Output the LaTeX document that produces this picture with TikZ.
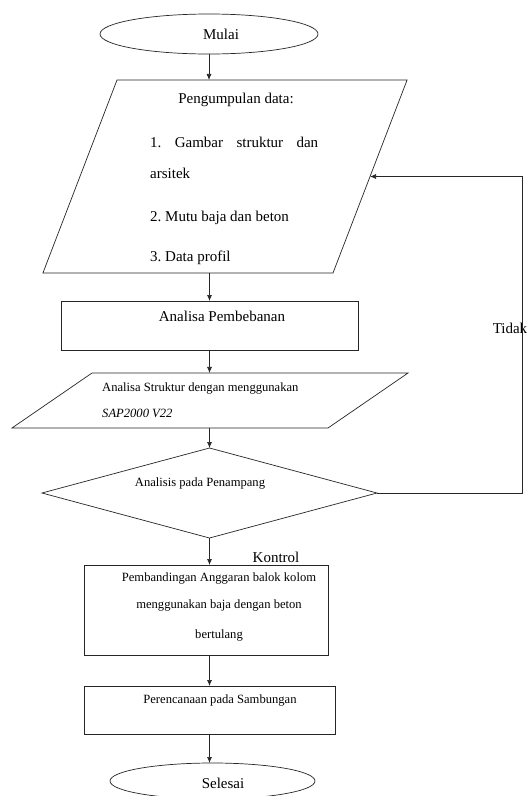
\documentclass[tikz,border=0pt]{standalone}
\usepackage{fontspec}
\setmainfont{Liberation Serif}
\usetikzlibrary{shapes.geometric,arrows.meta}
\tikzset{
  garis/.style={line width=0.7pt, draw=black!85},
  panah/.style={garis, -{Latex[length=6pt,width=5pt]}},
  bentuk/.style={garis, inner sep=0pt, outer sep=0pt},
  teks/.style={font=\fontsize{15}{18}\selectfont, inner sep=0pt},
  teksk/.style={font=\fontsize{12.6}{15}\selectfont, inner sep=0pt},
}
\begin{document}
\begin{tikzpicture}[x=1pt,y=-1pt]
    \fill[white] (0,0) rectangle (528,796);
    \useasboundingbox (0,0) rectangle (528,796);

% bentuk-bentuk
    \node[bentuk, ellipse, minimum width=218pt, minimum height=40pt] (mulai) at (209,34) {};
    \node[bentuk, trapezium, trapezium left angle=69, trapezium right angle=111,
          text width=216pt, text height=193pt, text depth=0pt] (kumpul) at (225,176.5) {};
    \node[bentuk, rectangle, minimum width=297pt, minimum height=49pt] (beban) at (209.5,325.5) {};
    \node[bentuk, trapezium, trapezium left angle=34.5, trapezium right angle=145.5,
          text width=236pt, text height=55pt, text depth=0pt] (struktur) at (210,400.5) {};
    \node[bentuk, diamond, minimum width=335pt, minimum height=90pt] (penampang) at (209.5,493) {};
    \node[bentuk, rectangle, minimum width=244pt, minimum height=90pt] (banding) at (206,610) {};
    \node[bentuk, rectangle, minimum width=251pt, minimum height=48pt] (sambung) at (209.5,710) {};
    \node[bentuk, ellipse, minimum width=205pt, minimum height=36pt] (selesai) at (212.5,781) {};

% tulisan
    \node[teks] (tmulai) at (221,34) {Mulai};
    \node[teks] (tkumpul) at (236,100) {Pengumpulan data:};
    \node[teks, anchor=west] (tkumpul1) at (150,142) {\makebox[168pt][s]{1.\ Gambar struktur dan}};
    \node[teks, anchor=west] (tkumpul2) at (150,173) {arsitek};
    \node[teks, anchor=west] (tkumpul3) at (150,218) {2.\ Mutu baja dan beton};
    \node[teks, anchor=west] (tkumpul4) at (150,258) {3.\ Data profil};
    \node[teks] (tbeban) at (222,316) {Analisa Pembebanan};
    \node[teksk, anchor=west] (tstruktur1) at (102,388) {Analisa Struktur dengan menggunakan};
    \node[teksk, anchor=west] (tstruktur2) at (102,413) {\textit{SAP2000 V22}};
    \node[teksk] (tpenampang) at (200,483) {Analisis pada Penampang};
    \node[teks] (tkontrol) at (276,557) {Kontrol};
    \node[teksk] (tbanding1) at (219,578) {Pembandingan Anggaran balok kolom};
    \node[teksk] (tbanding2) at (219,605) {menggunakan baja dengan beton};
    \node[teksk] (tbanding3) at (219,635) {bertulang};
    \node[teksk] (tsambung) at (220,700) {Perencanaan pada Sambungan};
    \node[teks] (ttidak) at (510,328) {Tidak};
    \node[teks] (tselesai) at (223,783) {Selesai};

% panah
    \draw[panah] (mulai.south) -- (mulai.south |- kumpul.north);
    \draw[panah] (beban.north |- kumpul.south) -- (beban.north);
    \draw[panah] (beban.south) -- (beban.south |- struktur.north);
    \draw[panah] (penampang.north |- struktur.south) -- (penampang.north);
    \draw[panah] (penampang.south) -- (penampang.south |- banding.north);
    \draw[panah] (sambung.north |- banding.south) -- (sambung.north);
    \draw[panah] (sambung.south) -- (sambung.south |- selesai.north);
    % balik ke pengumpulan data
    \coordinate (balik) at (522,493);
    \draw[panah] (penampang.east) -- (balik) |- (kumpul.east);
\end{tikzpicture}
\end{document}
